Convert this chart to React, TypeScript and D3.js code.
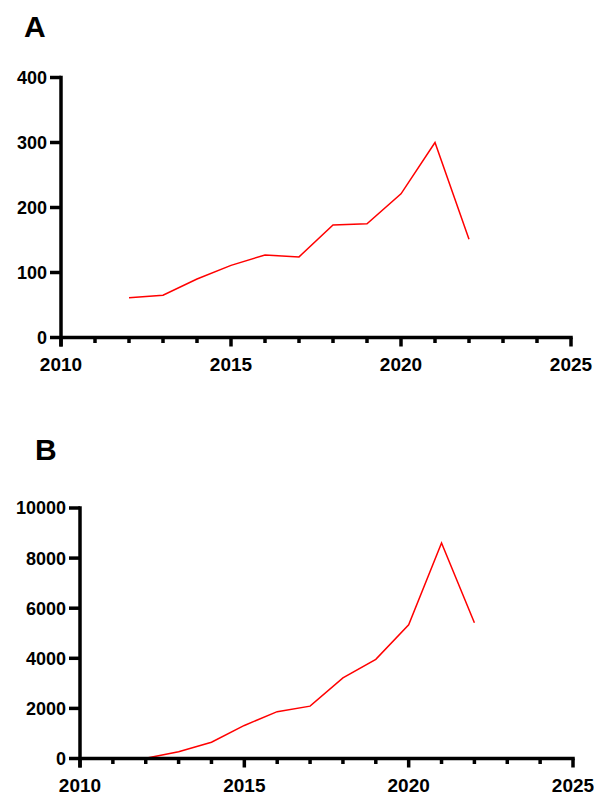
import React from "react";
import * as d3 from "d3";

const yearsA = [2012, 2013, 2014, 2015, 2016, 2017, 2018, 2019, 2020, 2021, 2022];
const valuesA = [61, 65, 90, 111, 127, 124, 173, 175, 221, 300, 151];
const yearsB = [2012, 2013, 2014, 2015, 2016, 2017, 2018, 2019, 2020, 2021, 2022];
const valuesB = [10, 270, 650, 1320, 1870, 2090, 3220, 3960, 5340, 8600, 5420];
const xMajorTicks = [2010, 2015, 2020, 2025];
const xMinorTicks = [2011, 2012, 2013, 2014, 2016, 2017, 2018, 2019, 2021, 2022, 2023, 2024];
const yTicksA = [0, 100, 200, 300, 400];
const yTicksB = [0, 2000, 4000, 6000, 8000, 10000];

const FONT = "'Liberation Sans', Arial, Helvetica, sans-serif";

type PanelProps = {
  label: string;
  labelX: number;
  labelY: number;
  x0: number;
  x1: number;
  yTop: number;
  yBottom: number;
  yMax: number;
  years: number[];
  values: number[];
  yTicks: number[];
};

function Panel(p: PanelProps) {
  const x = d3.scaleLinear().domain([2010, 2025]).range([p.x0, p.x1]);
  const y = d3.scaleLinear().domain([0, p.yMax]).range([p.yBottom, p.yTop]);
  const line = d3
    .line<number>()
    .x((_, i) => x(p.years[i]))
    .y((d) => y(d));
  const sw = 3.5;
  return (
    <g>
      <text x={p.labelX} y={p.labelY} fontFamily={FONT} fontWeight="bold" fontSize={30}>
        {p.label}
      </text>
      <path d={line(p.values) || ""} fill="none" stroke="#ff0000" strokeWidth={1.5} />
      <line x1={p.x0} x2={p.x0} y1={p.yTop - sw / 2} y2={p.yBottom + 9} stroke="#000" strokeWidth={sw} />
      {p.yTicks.map((t) => (
        <g key={"y" + t}>
          <line x1={p.x0 - 11} x2={p.x0} y1={y(t)} y2={y(t)} stroke="#000" strokeWidth={sw} />
          <text
            x={p.x0 - 14}
            y={y(t)}
            dy="0.36em"
            textAnchor="end"
            fontFamily={FONT}
            fontWeight="bold"
            fontSize={18}
          >
            {t}
          </text>
        </g>
      ))}
      <line x1={p.x0} x2={p.x1 + sw / 2} y1={p.yBottom} y2={p.yBottom} stroke="#000" strokeWidth={sw} />
      {xMajorTicks.map((t) => (
        <g key={"x" + t}>
          <line x1={x(t)} x2={x(t)} y1={p.yBottom} y2={p.yBottom + 9} stroke="#000" strokeWidth={sw} />
          <text
            x={x(t)}
            y={p.yBottom + 33}
            textAnchor="middle"
            fontFamily={FONT}
            fontWeight="bold"
            fontSize={19}
          >
            {t}
          </text>
        </g>
      ))}
      {xMinorTicks.map((t) => (
        <line key={"m" + t} x1={x(t)} x2={x(t)} y1={p.yBottom} y2={p.yBottom + 5.5} stroke="#000" strokeWidth={sw} />
      ))}
    </g>
  );
}

export default function App() {
  return (
    <svg
      width={594}
      height={792}
      style={{ position: "absolute", left: 0, top: 0, background: "#fff" }}
    >
      <rect width={594} height={792} fill="#fff" />
      <Panel
        label="A"
        labelX={24}
        labelY={37}
        x0={61}
        x1={571}
        yTop={77.5}
        yBottom={337.5}
        yMax={400}
        years={yearsA}
        values={valuesA}
        yTicks={yTicksA}
      />
      <Panel
        label="B"
        labelX={35}
        labelY={460}
        x0={80}
        x1={573}
        yTop={508}
        yBottom={758.5}
        yMax={10000}
        years={yearsB}
        values={valuesB}
        yTicks={yTicksB}
      />
    </svg>
  );
}
